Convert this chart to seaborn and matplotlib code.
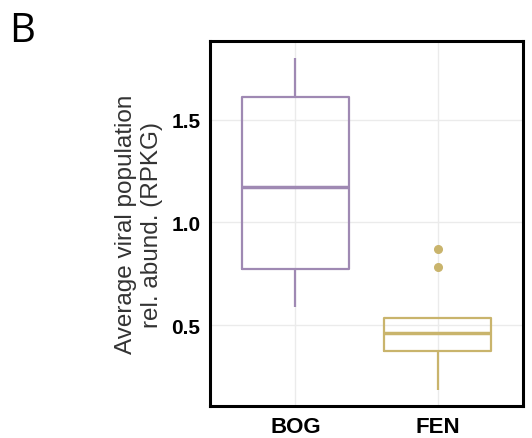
import matplotlib
matplotlib.use('Agg')
import matplotlib.pyplot as plt
import seaborn as sns
import pandas as pd

# values (per-sample averages, estimated)
bog_values = [0.588, 0.773, 1.173, 1.612, 1.80]
fen_values = [0.185, 0.30, 0.375, 0.42, 0.462, 0.50, 0.536, 0.785, 0.869]
groups = ['BOG', 'FEN']
colors = {'BOG': '#9f89b3', 'FEN': '#c9b46c'}

data = pd.DataFrame({
    'site': ['BOG'] * len(bog_values) + ['FEN'] * len(fen_values),
    'rpkg': bog_values + fen_values,
})

sns.set_style('white')
plt.rcParams['font.family'] = ['Liberation Sans', 'DejaVu Sans']

fig = plt.figure(figsize=(5.32, 4.39), dpi=100)
ax = fig.add_axes([0.3947, 0.0729, 0.5883, 0.8314])

sns.boxplot(data=data, x='site', y='rpkg', hue='site', order=groups,
            palette=colors, fill=False, width=0.75, linewidth=1.6,
            showcaps=False, legend=False, ax=ax,
            medianprops={'linewidth': 2.5},
            flierprops={'marker': 'o', 'markersize': 5.5})

# outliers drawn filled like ggplot
for line in ax.lines:
    if line.get_marker() == 'o':
        line.set_markerfacecolor(line.get_markeredgecolor())

ax.set_xlim(-0.6, 1.6)
ax.set_ylim(0.105, 1.885)
ax.set_yticks([0.5, 1.0, 1.5])
ax.set_yticklabels(['0.5', '1.0', '1.5'])
ax.grid(True, color='#ebebeb', linewidth=1)
ax.set_axisbelow(True)
for s in ax.spines.values():
    s.set_color('black')
    s.set_linewidth(2.2)
ax.tick_params(axis='both', direction='out', length=4, width=1,
               color='#333333', labelcolor='black', pad=3)
ax.tick_params(axis='y', labelsize=15)
ax.tick_params(axis='x', labelsize=16)
for lab in ax.get_xticklabels() + ax.get_yticklabels():
    lab.set_fontweight('bold')
ax.set_xlabel('')
ax.set_ylabel('Average viral population\nrel. abund. (RPKG)', fontsize=17.5,
              color='#333333', linespacing=1.25, labelpad=6)

fig.text(0.018, 0.905, 'B', fontsize=29, color='black',
         family=['Open Sans', 'DejaVu Sans'])

fig.savefig('out.png', dpi=100)
